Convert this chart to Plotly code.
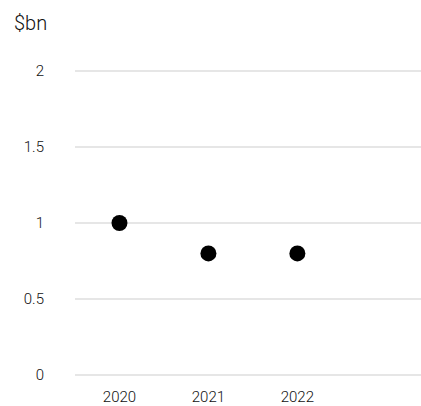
import plotly.graph_objects as go

years = [2020, 2021, 2022]
values = [1.0, 0.8, 0.8]
y_ticks = [0, 0.5, 1, 1.5, 2]
y_labels = ["0", "0.5", "1", "1.5", "2"]

W, H = 421, 406
L, R, T, B = 75, 0, 68, 28

fig = go.Figure()
fig.add_trace(go.Scatter(
    x=years, y=values, mode="markers",
    marker=dict(color="#000000", size=16),
    hoverinfo="x+y", showlegend=False,
))

fig.update_layout(
    width=W, height=H,
    margin=dict(l=L, r=R, t=T, b=B, autoexpand=False),
    plot_bgcolor="white", paper_bgcolor="white",
    font=dict(family="Roboto", size=15, color="#111111", weight=300),
    xaxis=dict(
        range=[2019.5, 2023.39],
        tickvals=years, ticktext=[str(y) for y in years],
        showgrid=False, zeroline=False, showline=False,
        ticks="", ticklabelstandoff=8, automargin=False,
    ),
    yaxis=dict(
        range=[-0.02, 2.02],
        tickvals=y_ticks, ticktext=y_labels,
        showgrid=True, gridcolor="#e6e6e6", gridwidth=2,
        zeroline=False, showline=False, ticks="",
        ticklabelstandoff=30, automargin=False,
    ),
    annotations=[dict(
        text="$bn", xref="paper", yref="paper",
        x=(12 - L) / (W - L - R), y=(H - B - 23) / (H - T - B),
        xanchor="left", yanchor="middle", showarrow=False,
        font=dict(size=20, family="Roboto", color="#111111", weight=300),
    )],
)
fig.write_html(
    "out.html",
    config={"displayModeBar": False},
    post_script="document.body.style.margin='0';document.body.style.overflow='hidden';",
)
